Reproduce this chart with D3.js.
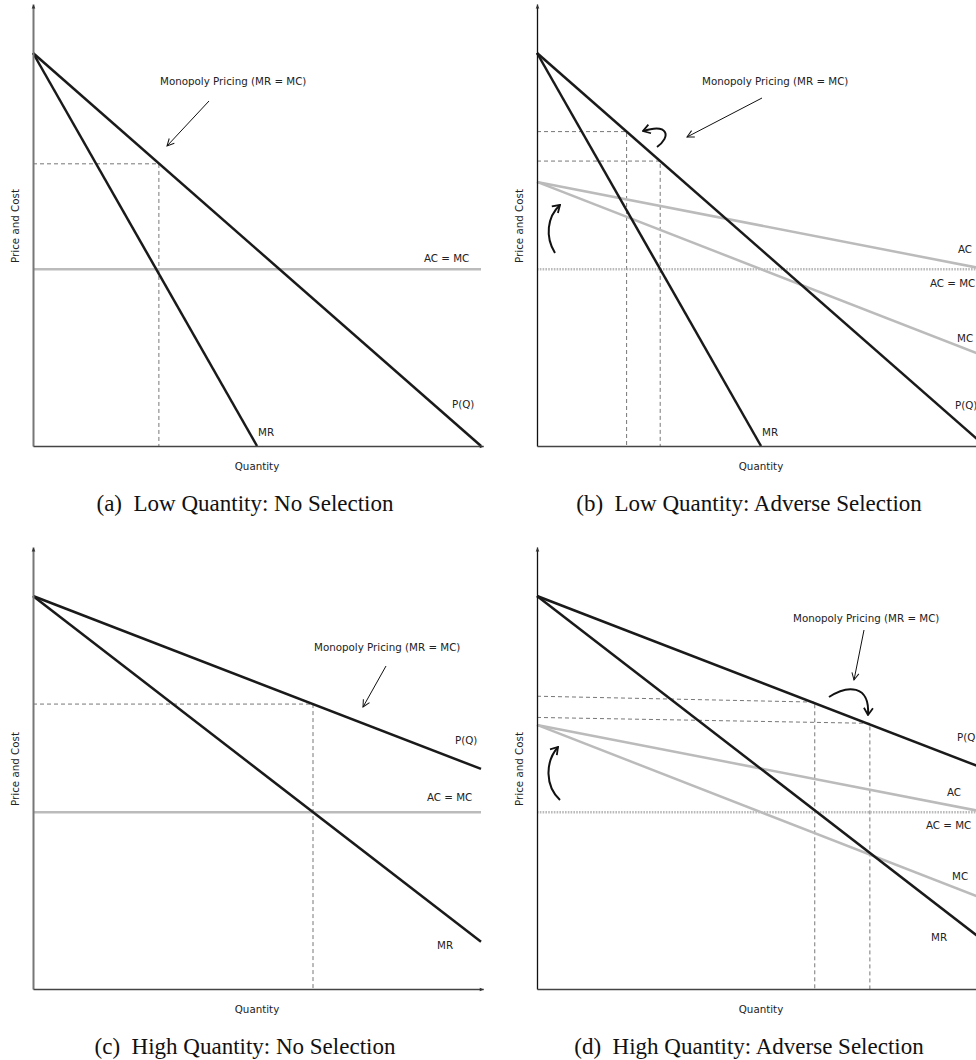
<!DOCTYPE html>
<html>
<head>
<meta charset="utf-8">
<script src="https://cdn.jsdelivr.net/npm/d3@7"></script>
<style>
  body { margin: 0; background: #fff; }
  text { font-family: "DejaVu Sans", sans-serif; font-size: 10.3px; fill: #222; }
  .caption { font-family: "Liberation Serif", serif; font-size: 23px; fill: #111; }
</style>
</head>
<body>
<div id="chart"></div>
<script>
// Curves: [Q, price], price 1 = demand intercept
const demandLow = [[0, 1], [1, 0]];
const revenueLow = [[0, 1], [0.5, 0]];
const demandHigh = [[0, 1], [1, 0.56]];
const revenueHigh = [[0, 1], [1, 0.12]];
const costFlat = 0.45; // AC = MC without selection
const avgCost = [[0, 0.672], [1, 0.45]];
const margCost = [[0, 0.672], [1, 0.228]];

// Monopoly points: [Q, price where the guide meets the axis, price on the curve]
const monoA = [[0.281, 0.718, 0.718]];
const monoB = [[0.2, 0.8, 0.8], [0.275, 0.725, 0.725]];
const monoC = [[0.625, 0.725, 0.725]];
const monoD = [[0.62, 0.745, 0.73], [0.743, 0.691, 0.676]];

const captions = [
  '(a)\u2002Low Quantity: No Selection',
  '(b)\u2002Low Quantity: Adverse Selection',
  '(c)\u2002High Quantity: No Selection',
  '(d)\u2002High Quantity: Adverse Selection'
];
const noteText = 'Monopoly Pricing (MR = MC)';

const W = 448, H = 393;

const panels = [
  {
    ox: 33, oy: 53, demand: demandLow, revenue: revenueLow, adverse: false, mono: monoA,
    yAxisColor: '#777', yAxisWidth: 2,
    note: [127, 28], pointer: [[176, 48], [134, 93]], curves: [],
    labels: [['AC = MC', 391, 205], ['P(Q)', 419, 351], ['MR', 225, 379]]
  },
  {
    ox: 537, oy: 53, demand: demandLow, revenue: revenueLow, adverse: true, mono: monoB,
    yAxisColor: '#111', yAxisWidth: 1.3,
    note: [165, 28], pointer: [[225, 45], [150, 84]],
    curves: ['M120,94 C134,84 132,70 106,78', 'M18,200 C8,184 10,164 23,152'],
    labels: [['AC', 421, 196], ['AC = MC', 393, 230], ['MC', 420, 285], ['P(Q)', 418, 352], ['MR', 225, 379]]
  },
  {
    ox: 33, oy: 596, demand: demandHigh, revenue: revenueHigh, adverse: false, mono: monoC,
    yAxisColor: '#777', yAxisWidth: 2,
    note: [281, 51], pointer: [[353, 70], [330, 111]], curves: [],
    labels: [['P(Q)', 422, 144], ['AC = MC', 394, 201], ['MR', 404, 349]]
  },
  {
    ox: 537, oy: 596, demand: demandHigh, revenue: revenueHigh, adverse: true, mono: monoD,
    yAxisColor: '#111', yAxisWidth: 1.3,
    note: [256, 22], pointer: [[327, 34], [317, 84]],
    curves: ['M292,101 C310,89 333,88 331,119', 'M23,204 C8,190 8,166 21,151'],
    labels: [['P(Q)', 420, 141], ['AC', 410, 196], ['AC = MC', 389, 229], ['MC', 415, 280], ['MR', 394, 341]]
  }
];

const svg = d3.select('#chart').append('svg')
  .attr('width', 976)
  .attr('height', 1060);

const defs = svg.append('defs');
defs.append('marker')
  .attr('id', 'axis-head')
  .attr('viewBox', '-5 -3 6 6')
  .attr('markerWidth', 6).attr('markerHeight', 6)
  .attr('markerUnits', 'userSpaceOnUse')
  .attr('orient', 'auto')
  .append('path').attr('d', 'M-4,-1.8L0,0L-4,1.8Z').attr('fill', '#333');
defs.append('marker')
  .attr('id', 'thin-head')
  .attr('viewBox', '-9 -5 10 10')
  .attr('markerWidth', 10).attr('markerHeight', 10)
  .attr('markerUnits', 'userSpaceOnUse')
  .attr('orient', 'auto')
  .append('path').attr('d', 'M-7,-3.5L0,0L-7,3.5').attr('fill', 'none').attr('stroke', '#111').attr('stroke-width', 1);
defs.append('marker')
  .attr('id', 'bold-head')
  .attr('viewBox', '-11 -6 12 12')
  .attr('markerWidth', 12).attr('markerHeight', 12)
  .attr('markerUnits', 'userSpaceOnUse')
  .attr('orient', 'auto')
  .append('path').attr('d', 'M-7,-4.5L0,0L-7,4.5').attr('fill', 'none').attr('stroke', '#111').attr('stroke-width', 1.8);

function drawPanel(p, i) {
  const g = svg.append('g').attr('transform', `translate(${p.ox},${p.oy})`);
  const x = d3.scaleLinear().domain([0, 1]).range([0, W]);
  const y = d3.scaleLinear().domain([0, 1]).range([H, 0]);
  const line = d3.line().x(d => x(d[0])).y(d => y(d[1]));

  // dashed guides to the monopoly points
  p.mono.forEach(m => {
    g.append('path')
      .attr('d', line([[0, m[1]], [m[0], m[2]], [m[0], 0]]))
      .attr('fill', 'none')
      .attr('stroke', '#777')
      .attr('stroke-width', 1)
      .attr('stroke-dasharray', '4,3');
  });

  // cost curves
  if (p.adverse) {
    g.append('path')
      .attr('d', line([[0, costFlat], [1.05, costFlat]]))
      .attr('stroke', '#bbb').attr('stroke-width', 2.5)
      .attr('stroke-dasharray', '1.6,1.2');
    [avgCost, margCost].forEach(c => {
      g.append('path').attr('d', line(c))
        .attr('fill', 'none').attr('stroke', '#bbb').attr('stroke-width', 2.5);
    });
  } else {
    g.append('path')
      .attr('d', line([[0, costFlat], [1, costFlat]]))
      .attr('stroke', '#bbb').attr('stroke-width', 2.5);
  }

  // demand and marginal revenue
  [p.demand, p.revenue].forEach(c => {
    g.append('path').attr('d', line(c))
      .attr('fill', 'none').attr('stroke', '#1a1a1a').attr('stroke-width', 2.5);
  });

  // axes, drawn a little past the data with small heads
  const yAxisScale = d3.scaleLinear().domain([0, 1.125]).range([y(0), y(1.125)]);
  const xAxisScale = d3.scaleLinear().domain([0, 1.005]).range([x(0), x(1.005)]);
  const yAxis = g.append('g').call(d3.axisLeft(yAxisScale).tickValues([]).tickSizeOuter(0));
  yAxis.select('.domain')
    .attr('stroke', p.yAxisColor).attr('stroke-width', p.yAxisWidth)
    .attr('marker-end', 'url(#axis-head)');
  const xAxis = g.append('g').attr('transform', `translate(0,${H})`)
    .call(d3.axisBottom(xAxisScale).tickValues([]).tickSizeOuter(0));
  xAxis.select('.domain')
    .attr('stroke', '#444').attr('stroke-width', 1.5)
    .attr('marker-end', 'url(#axis-head)');

  // axis titles
  g.append('text')
    .attr('transform', `translate(-18,173) rotate(-90)`)
    .attr('text-anchor', 'middle').attr('dy', '0.35em')
    .text('Price and Cost');
  g.append('text')
    .attr('x', 224).attr('y', 413).attr('dy', '0.35em')
    .attr('text-anchor', 'middle')
    .text('Quantity');

  // curve labels
  p.labels.forEach(l => {
    g.append('text').attr('x', l[1]).attr('y', l[2]).attr('dy', '0.35em').text(l[0]);
  });

  // monopoly note and arrows
  g.append('text').attr('x', p.note[0]).attr('y', p.note[1]).attr('dy', '0.35em').text(noteText);
  g.append('path')
    .attr('d', d3.line()(p.pointer))
    .attr('stroke', '#111').attr('stroke-width', 1)
    .attr('marker-end', 'url(#thin-head)');
  p.curves.forEach(c => {
    g.append('path').attr('d', c)
      .attr('fill', 'none').attr('stroke', '#111').attr('stroke-width', 2)
      .attr('marker-end', 'url(#bold-head)');
  });

  g.append('text')
    .attr('class', 'caption')
    .attr('x', 212).attr('y', 450).attr('dy', '0.35em')
    .attr('text-anchor', 'middle')
    .text(captions[i]);
}

panels.forEach(drawPanel);
</script>
</body>
</html>
